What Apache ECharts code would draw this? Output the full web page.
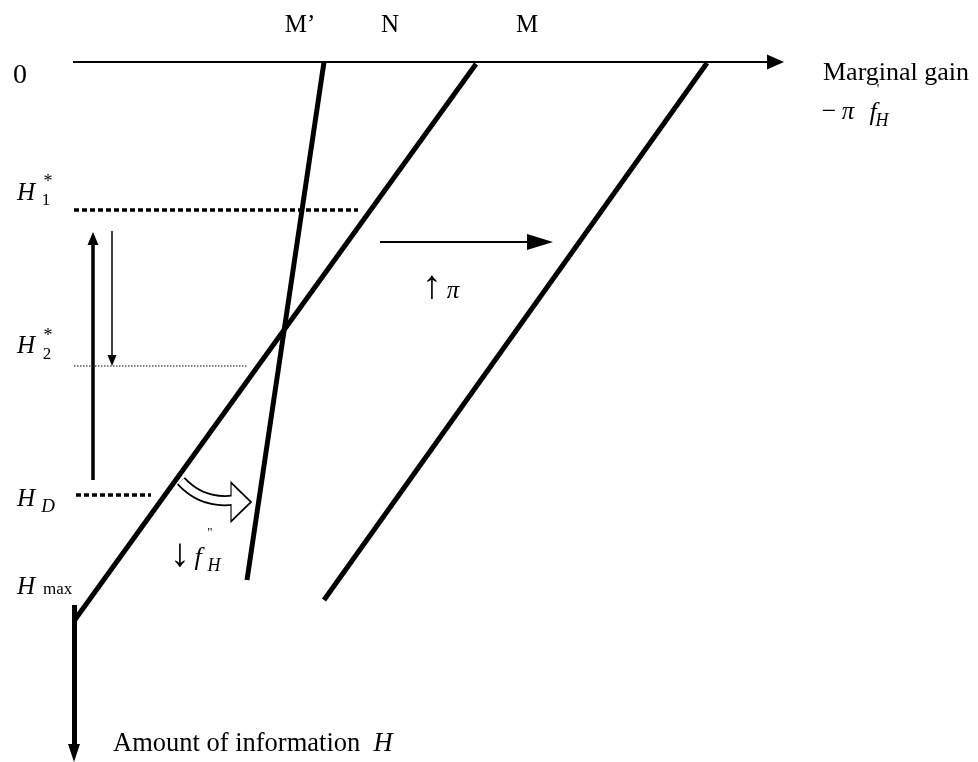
<!DOCTYPE html>
<html>
<head>
<meta charset="utf-8">
<script src="https://cdn.jsdelivr.net/npm/echarts@6/dist/echarts.min.js"></script>
<style>
  html, body { margin: 0; padding: 0; background: #fff; }
  #chart { width: 978px; height: 762px; }
</style>
</head>
<body>
<div id="chart"></div>
<script>
// diagram space: x grows right, y grows down (0..978, 0..762)
const curveM = [[707, 63], [324, 600]];
const curveN = [[476, 64], [74, 621]];
const curveMPrime = [[324, 62], [247, 580]];

const levelH1 = [[74, 210], [358, 210]];
const levelH2 = [[74, 366], [248, 366]];
const levelHD = [[76, 495], [151, 495]];

// arrows: [start, tip]
const gainAxis = [[73, 62], [784, 62]];
const infoAxis = [[74, 605], [74, 762]];
const riseArrow = [[93, 480], [93, 232]];
const fallArrow = [[112, 231], [112, 366]];
const shiftArrow = [[380, 242], [553, 242]];
const bendArrow = [[181, 481], [234, 500]];
const bendHead = [241, 502];

// text: [text, x, y, size, italic, align]
const notes = [
  ['M\u2019', 300, 25, 25, false, 'center'],
  ['N', 390, 25, 25, false, 'center'],
  ['M', 527, 25, 25, false, 'center'],
  ['0', 20, 76, 28, false, 'center'],
  ['Marginal gain', 823, 73, 26, false, 'left'],
  ['\u2212', 829, 112, 26, false, 'center'],
  ['\u03c0', 848, 112, 25, true, 'center'],
  ['f', 873, 113, 26, true, 'center'],
  ['\'', 878, 90, 14, false, 'center'],
  ['H', 882, 121, 18, true, 'center'],
  ['H', 17, 193, 25, true, 'left'],
  ['1', 46, 201, 17, false, 'center'],
  ['*', 48, 182, 18, false, 'center'],
  ['H', 17, 346, 25, true, 'left'],
  ['2', 47, 355, 17, false, 'center'],
  ['*', 48, 336, 18, false, 'center'],
  ['H', 17, 499, 25, true, 'left'],
  ['D', 48, 507, 19, true, 'center'],
  ['H', 17, 587, 25, true, 'left'],
  ['max', 43, 590, 17, false, 'left'],
  ['\u2193', 180, 555, 40, false, 'center'],
  ['f', 198, 558, 26, true, 'center'],
  ['"', 210, 533, 13, false, 'center'],
  ['H', 214, 566, 18, true, 'center'],
  ['\u2191', 432, 287, 40, false, 'center'],
  ['\u03c0', 453, 291, 25, true, 'center'],
  ['Amount of information', 113, 744, 26.5, false, 'left'],
  ['H', 383, 744, 26.5, true, 'center']
];

const FONT = "'Liberation Serif', 'Times New Roman', serif";

const chart = echarts.init(document.getElementById('chart'));

function solid(data, width) {
  return {
    type: 'line',
    data: data,
    showSymbol: false,
    symbol: 'none',
    clip: false,
    silent: true,
    lineStyle: { color: '#000', width: width, cap: 'butt' }
  };
}

function dotted(data, width, dash) {
  const s = solid(data, width);
  s.lineStyle.type = dash;
  return s;
}

// line ends at the middle of the head so the tip lands on the given point
function arrow(pts, width, head) {
  const a = pts[0], b = pts[1];
  const dx = b[0] - a[0], dy = b[1] - a[1];
  const len = Math.sqrt(dx * dx + dy * dy);
  const end = [b[0] - dx / len * head[1] / 2, b[1] - dy / len * head[1] / 2];
  return {
    type: 'lines',
    coordinateSystem: 'cartesian2d',
    silent: true,
    clip: false,
    symbol: ['none', 'triangle'],
    symbolSize: [0, head],
    lineStyle: { color: '#000', width: width, opacity: 1 },
    data: [{ coords: [a, end] }]
  };
}

function bend(width, color, z) {
  return {
    type: 'lines',
    coordinateSystem: 'cartesian2d',
    silent: true,
    clip: false,
    z: z,
    lineStyle: { color: color, width: width, opacity: 1, curveness: -0.26, cap: 'butt' },
    data: [{ coords: bendArrow }]
  };
}

const option = {
  animation: false,
  backgroundColor: '#fff',
  grid: { left: 0, right: 0, top: 0, bottom: 0 },
  xAxis: { type: 'value', min: 0, max: 978, show: false },
  yAxis: { type: 'value', min: 0, max: 762, inverse: true, show: false },
  series: [
    solid(curveM, 5),
    solid(curveN, 5),
    solid(curveMPrime, 5),
    dotted(levelH1, 3.5, [5, 3]),
    dotted(levelH2, 1, [1.5, 1.5]),
    dotted(levelHD, 3.5, [5, 3]),
    arrow(gainAxis, 2, [15, 17]),
    arrow(infoAxis, 5, [12, 18]),
    arrow(riseArrow, 3.5, [11, 13]),
    arrow(fallArrow, 1.5, [9, 11]),
    arrow(shiftArrow, 2, [16, 26]),
    bend(11, '#000', 3),
    {
      type: 'scatter',
      silent: true,
      z: 4,
      symbol: 'triangle',
      symbolSize: [39, 20],
      symbolRotate: -90,
      itemStyle: { color: '#fff', borderColor: '#000', borderWidth: 1.6, opacity: 1 },
      data: [bendHead]
    },
    bend(7.5, '#fff', 5),
    {
      type: 'scatter',
      silent: true,
      z: 6,
      symbolSize: 1,
      itemStyle: { color: 'rgba(0,0,0,0)', opacity: 1 },
      data: notes.map(n => ({
        value: [n[1], n[2]],
        label: {
          show: true,
          position: 'inside',
          formatter: n[0],
          fontFamily: FONT,
          fontSize: n[3],
          fontStyle: n[4] ? 'italic' : 'normal',
          color: '#000',
          opacity: 1,
          align: n[5],
          verticalAlign: 'middle'
        }
      }))
    }
  ]
};

chart.setOption(option);
</script>
</body>
</html>
